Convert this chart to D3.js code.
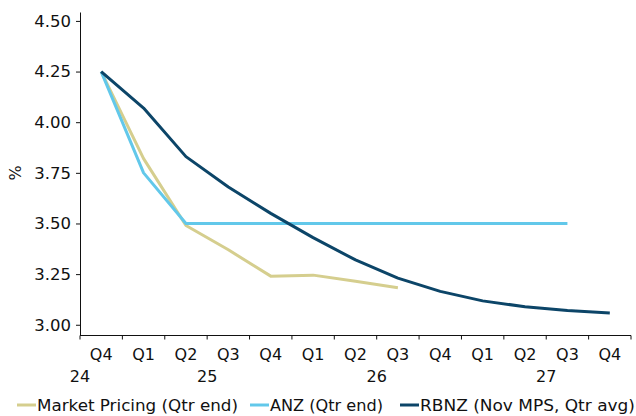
<!DOCTYPE html>
<html>
<head>
<meta charset="utf-8">
<script src="https://cdn.jsdelivr.net/npm/d3@7"></script>
<style>
  body { margin: 0; background: #fff; }
  text { font-family: "DejaVu Sans", Verdana, sans-serif; fill: #111; }
</style>
</head>
<body>
<div id="chart-area"></div>
<script>
// quarters on the x axis, years below them
var quarters = ["Q4","Q1","Q2","Q3","Q4","Q1","Q2","Q3","Q4","Q1","Q2","Q3","Q4"];
var years = ["24","25","26","27"];
var yearStart = [0, 1, 5, 9];   // index of first quarter of each year
var yearLen = [1, 4, 4, 4];

var yTicks = [3.00, 3.25, 3.50, 3.75, 4.00, 4.25, 4.50];

// series values (null = no data)
var marketPricing = [4.25, 3.82, 3.49, 3.37, 3.24, 3.245, 3.215, 3.183, null, null, null, null, null];
var anz = [4.25, 3.75, 3.50, 3.50, 3.50, 3.50, 3.50, 3.50, 3.50, 3.50, 3.50, 3.50, null];
var rbnz = [4.25, 4.07, 3.83, 3.68, 3.55, 3.43, 3.32, 3.23, 3.165, 3.118, 3.089, 3.07, 3.058];

var seriesNames = ["Market Pricing (Qtr end)", "ANZ (Qtr end)", "RBNZ (Nov MPS, Qtr avg)"];
var seriesColors = ["#d5ce8e", "#62c8ea", "#0c4568"];

var width = 636, height = 416;
var mLeft = 80, mRight = 631, mTop = 12, mBottom = 335.5;

var svg = d3.select("#chart-area").append("svg")
	.attr("width", width)
	.attr("height", height);

var x = d3.scaleBand()
	.domain(d3.range(quarters.length))
	.range([mLeft, mRight]);

var y = d3.scaleLinear()
	.domain([2.947, 4.544])
	.range([mBottom, mTop]);

// y axis
var yAxis = d3.axisLeft(y)
	.tickValues(yTicks)
	.tickFormat(d3.format(".2f"))
	.tickSize(4)
	.tickPadding(5)
	.tickSizeOuter(0);

var gy = svg.append("g")
	.attr("transform", "translate(" + mLeft + ",0)")
	.call(yAxis);
gy.selectAll("text").style("font-size", "16.5px").attr("fill", "#111");
gy.selectAll("line, path").attr("stroke", "#111");

// x axis: ticks at band boundaries
var gx = svg.append("g")
	.attr("transform", "translate(0," + mBottom + ")");
gx.append("line")
	.attr("x1", mLeft).attr("x2", mRight)
	.attr("stroke", "#111");
gx.selectAll(".tk")
	.data(d3.range(quarters.length + 1))
	.enter().append("line")
		.attr("x1", function(d){ return mLeft + d * x.step(); })
		.attr("x2", function(d){ return mLeft + d * x.step(); })
		.attr("y1", 0).attr("y2", 4)
		.attr("stroke", "#111");
gx.selectAll(".ql")
	.data(quarters)
	.enter().append("text")
		.attr("x", function(d, i){ return x(i) + x.bandwidth() / 2; })
		.attr("y", 24)
		.attr("text-anchor", "middle")
		.style("font-size", "16px")
		.text(function(d){ return d; });
gx.selectAll(".yl")
	.data(years)
	.enter().append("text")
		.attr("x", function(d, i){
			if (yearLen[i] == 1) return x(yearStart[i]);
			return x(yearStart[i]) + yearLen[i] * x.step() / 2;
		})
		.attr("y", 46.5)
		.attr("text-anchor", "middle")
		.style("font-size", "16px")
		.text(function(d){ return d; });

// y title
svg.append("text")
	.attr("transform", "translate(21,173) rotate(-90)")
	.attr("text-anchor", "middle")
	.style("font-size", "16px")
	.text("%");

// lines
var line = d3.line()
	.defined(function(d){ return d != null; })
	.x(function(d, i){ return x(i) + x.bandwidth() / 2; })
	.y(function(d){ return y(d); });

[marketPricing, anz, rbnz].forEach(function(s, k){
	svg.append("path")
		.datum(s)
		.attr("d", line)
		.attr("fill", "none")
		.attr("stroke", seriesColors[k])
		.attr("stroke-width", 3)
		.attr("stroke-linejoin", "round");
});

// legend
var legendX = [17, 250, 400];
var legendW = [201, 113, 215];
var lg = svg.append("g").attr("transform", "translate(0,405)");
seriesNames.forEach(function(n, k){
	lg.append("line")
		.attr("x1", legendX[k]).attr("x2", legendX[k] + 19)
		.attr("stroke", seriesColors[k])
		.attr("stroke-width", 3);
	lg.append("text")
		.attr("x", legendX[k] + 20)
		.attr("y", 6)
		.attr("textLength", legendW[k])
		.attr("lengthAdjust", "spacingAndGlyphs")
		.style("font-size", "16px")
		.text(n);
});
</script>
</body>
</html>
